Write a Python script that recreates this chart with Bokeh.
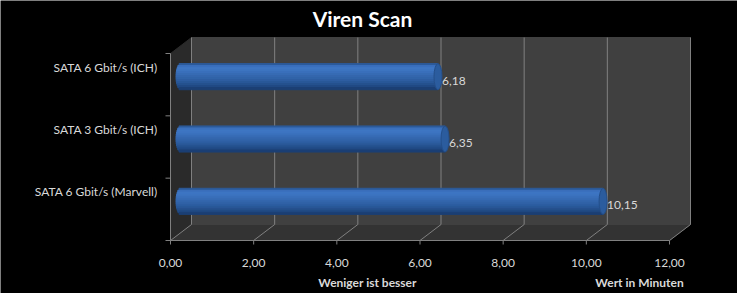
import math
from bokeh.plotting import figure
from bokeh.models import Range1d, Label, ColumnDataSource
from bokeh.core.properties import value
from bokeh.embed import file_html
from bokeh.resources import INLINE

# ---- data ----
categories = ["SATA 6 Gbit/s (Marvell)", "SATA 3 Gbit/s (ICH)", "SATA 6 Gbit/s (ICH)"]
minutes = [10.15, 6.35, 6.18]
x_ticks = [0, 2, 4, 6, 8, 10, 12]
x_tick_labels = ["0,00", "2,00", "4,00", "6,00", "8,00", "10,00", "12,00"]
title_text = "Viren Scan"
x_title = "Weniger ist besser"
unit_title = "Wert in Minuten"

# ---- geometry / style ----
W, H = 737, 293
X0_PX, Y0_PX = 170, 240       # pixel of the front-left-bottom corner of the plot box
PX_X = 499 / 12.0             # px per minute
PX_Y = 187 / 3.0              # px per category
XMAX = 12
DX = 21 / PX_X                # depth offset in data units
DY = 16 / PX_Y
FONT = "Lato"
TXT = "#d9d9d9"
GRID = "#808080"

n = len(categories)
ys = list(range(n))
ylo, yhi = -0.5, n - 0.5

p = figure(width=W, height=H, output_backend="svg", toolbar_location=None,
           x_range=Range1d(-X0_PX / PX_X, (W - X0_PX) / PX_X),
           y_range=Range1d(ylo - (H - Y0_PX) / PX_Y, ylo + Y0_PX / PX_Y),
           min_border=0, background_fill_color="black", border_fill_color="black",
           outline_line_color=None, x_axis_location=None, y_axis_location=None)
p.grid.visible = False

# left wall
p.patch([0, 0, DX, DX], [ylo, yhi, yhi + DY, ylo + DY], color="#2a2a2a")
# floor
p.patch([0, XMAX, XMAX + DX, DX], [ylo, ylo, ylo + DY, ylo + DY], color="#333333")
# back wall
p.quad(left=DX, right=XMAX + DX, bottom=ylo + DY, top=yhi + DY, color="#404040")
# back-wall gridlines and floor diagonals
p.segment(x0=[t + DX for t in x_ticks], y0=[ylo + DY] * len(x_ticks),
          x1=[t + DX for t in x_ticks], y1=[yhi + DY] * len(x_ticks), line_color=GRID, line_width=1)
p.segment(x0=x_ticks, y0=[ylo] * len(x_ticks),
          x1=[t + DX for t in x_ticks], y1=[ylo + DY] * len(x_ticks), line_color=GRID, line_width=1)

# axes: lines and ticks
p.segment(x0=[0, 0], y0=[ylo, ylo], x1=[0, XMAX], y1=[yhi, ylo], line_color=GRID, line_width=1)
p.segment(x0=x_ticks, y0=[ylo] * len(x_ticks), x1=x_ticks,
          y1=[ylo - 4 / PX_Y] * len(x_ticks), line_color=GRID, line_width=1)
bounds = [y - 0.5 for y in ys] + [yhi]
p.segment(x0=[0] * len(bounds), y0=bounds, x1=[-5 / PX_X] * len(bounds), y1=bounds,
          line_color=GRID, line_width=1)

# x tick labels
p.text(x=x_ticks, y=[ylo] * len(x_ticks), text=x_tick_labels, y_offset=22,
       text_font=value(FONT), text_font_size="12px", text_color=TXT,
       text_align="center", text_baseline="middle")
# category labels
LABEL_SHIFT = 0.28
p.text(x=[0] * n, y=[y + LABEL_SHIFT for y in ys], text=categories, x_offset=-13,
       text_font=value(FONT), text_font_size="12px", text_color=TXT,
       text_align="right", text_baseline="middle")

# cylinder bars
grad = ["#2c5a9a", "#3b70bd", "#3e76c3", "#3d74c1", "#3a70bb", "#376bb4", "#3467ae",
        "#3163a8", "#2d5ea1", "#295898", "#25518e", "#214a84", "#1b3f74"]
BAR_H = 26 / PX_Y
strip = BAR_H / len(grad)
cap_r = 5 / PX_X
cy = [y + DY / 2 for y in ys]
start = DX / 2
for i, col in enumerate(grad):
    t = 1 - (i + 0.5) * 2 / len(grad)          # +1 top .. -1 bottom
    off = BAR_H / 2 - (i + 0.5) * strip
    lefts = [start - cap_r * math.sqrt(max(0.0, 1 - t * t))] * n
    p.hbar(y=[c + off for c in cy], left=lefts, right=[v + start for v in minutes],
           height=strip * 1.05, color=col)
# right end caps
p.ellipse(x=[v + start for v in minutes], y=cy, width=8, height=26,
          width_units="screen", height_units="screen", fill_color="#2b5c9e", line_color="#244f8a")

# value labels
src = ColumnDataSource(dict(x=[v + start for v in minutes], y=cy,
                            t=[f"{v:.2f}".replace(".", ",") for v in minutes]))
p.text(x="x", y="y", text="t", source=src, x_offset=4, y_offset=4,
       text_font=value(FONT), text_font_size="12px", text_color=TXT,
       text_baseline="middle", text_align="left")

# titles (screen units, from lower-left corner)
p.add_layout(Label(x=362, y=H - 18, x_units="screen", y_units="screen",
                   text=title_text, text_align="center", text_baseline="middle", text_font=FONT,
                   text_font_style="bold", text_font_size="21px", text_color="white"))
p.add_layout(Label(x=367, y=H - 282, x_units="screen", y_units="screen",
                   text=x_title, text_align="center", text_baseline="middle", text_font=FONT,
                   text_font_style="bold", text_font_size="12px", text_color=TXT))
p.add_layout(Label(x=639, y=H - 282, x_units="screen", y_units="screen",
                   text=unit_title, text_align="center", text_baseline="middle", text_font=FONT,
                   text_font_style="bold", text_font_size="12px", text_color=TXT))

open("out.html", "w").write(file_html(p, INLINE))
